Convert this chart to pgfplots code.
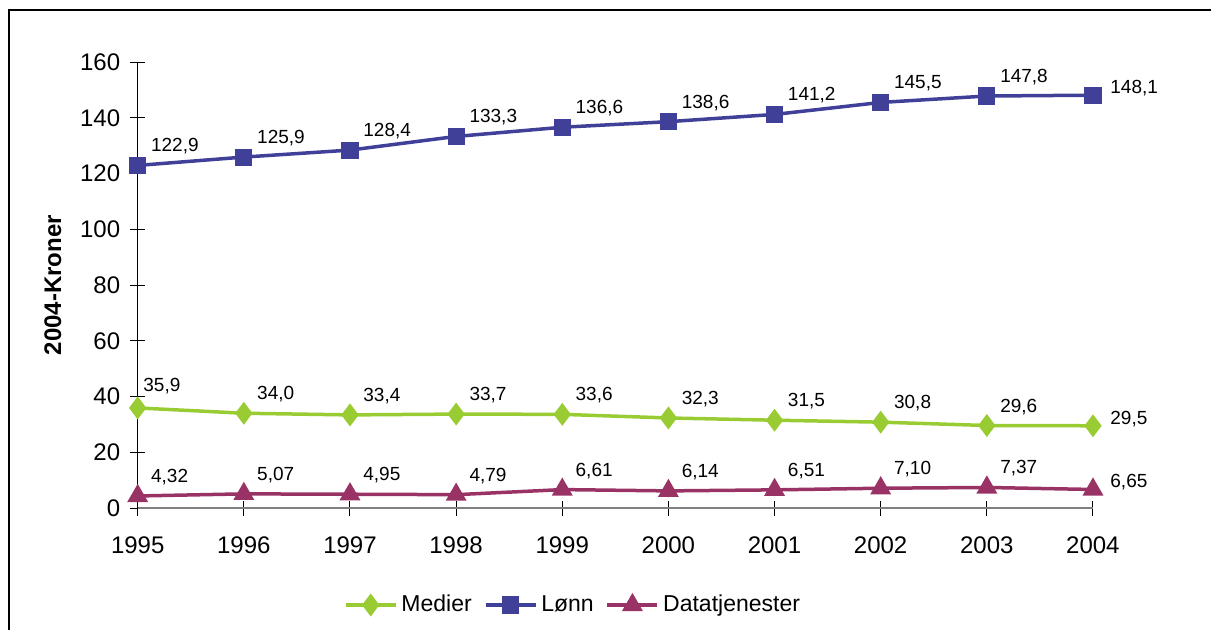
\documentclass[border=0pt]{standalone}
\usepackage{pgfplots}
\pgfplotsset{compat=1.18}
\usepackage{fontspec}
\setmainfont{Liberation Sans}
\definecolor{cMed}{RGB}{153,204,51}
\definecolor{cLon}{RGB}{64,64,153}
\definecolor{cDat}{RGB}{153,51,102}
\begin{document}
\begin{tikzpicture}
\useasboundingbox (0,0) rectangle (605.5pt,-314.5pt);
\draw[line width=0.6pt] (4.5pt,-320pt) -- (4.5pt,-5pt) -- (610pt,-5pt);
\begin{axis}[
  at={(68.85pt,-254pt)}, anchor=origin,
  scale only axis, width=477.65pt, height=223pt,
  xmin=1995, xmax=2004, ymin=0, ymax=160,
  axis lines=left,
  x axis line style={-, draw=gray, line width=0.6pt},
  y axis line style={-, draw=black, line width=0.5pt},
  xtick={1995,...,2004}, ytick={0,20,...,160},
  tick align=center, major tick length=7.5pt,
  tick style={black, line width=0.5pt},
  /pgf/number format/assume math mode=true,
  xticklabel style={/pgf/number format/1000 sep=, font=\fontsize{12}{14}\selectfont, yshift=-7pt},
  yticklabel style={font=\fontsize{12}{14}\selectfont, xshift=-1.5pt},
  ylabel={\textbf{2004-Kroner}},
  ylabel style={font=\fontsize{12}{14}\selectfont},
  ylabel shift=2.5pt,
  legend style={at={(0.4567,-0.2175)}, anchor=center, draw=none, font=\fontsize{11.5}{13}\selectfont, legend columns=3,
    /tikz/every even column/.append style={column sep=4pt}},
  legend image code/.code={\draw[mark repeat=2,mark phase=2] plot coordinates {(0pt,0pt) (12.5pt,0pt) (25pt,0pt)};},
  every node near coord/.append style={font=\fontsize{9.5}{11}\selectfont, inner sep=0pt, black},
]
\addplot[cMed, line width=1.75pt, mark=diamond*, mark size=4.3pt, mark options={solid}] coordinates {
 (1995,35.9) (1996,34.0) (1997,33.4) (1998,33.7) (1999,33.6) (2000,32.3) (2001,31.5) (2002,30.8) (2003,29.6) (2004,29.5)};
\addlegendentry{Medier}
\addplot[cLon, line width=1.75pt, mark=square*, mark size=3.4pt] coordinates {
 (1995,122.9) (1996,125.9) (1997,128.4) (1998,133.3) (1999,136.6) (2000,138.6) (2001,141.2) (2002,145.5) (2003,147.8) (2004,148.1)};
\addlegendentry{Lønn}
\addplot[cDat, line width=1.75pt, mark=triangle*, mark size=4.3pt] coordinates {
 (1995,4.32) (1996,5.07) (1997,4.95) (1998,4.79) (1999,6.61) (2000,6.14) (2001,6.51) (2002,7.10) (2003,7.37) (2004,6.65)};
\addlegendentry{Datatjenester}
% labels, one decimal, above right
\addplot[draw=none, forget plot, point meta=y,
  nodes near coords={\pgfmathprintnumber[fixed,fixed zerofill,precision=1,use comma]{\pgfplotspointmeta}},
  every node near coord/.append style={anchor=base west, xshift=6.5pt, yshift=6.75pt}] coordinates {
 (1996,34.0) (1997,33.4) (1998,33.7) (1999,33.6) (2000,32.3) (2001,31.5) (2002,30.8) (2003,29.6)
 (1995,122.9) (1996,125.9) (1997,128.4) (1998,133.3) (1999,136.6) (2000,138.6) (2001,141.2) (2002,145.5) (2003,147.8)};
\addplot[draw=none, forget plot, point meta=y,
  nodes near coords={\pgfmathprintnumber[fixed,fixed zerofill,precision=1,use comma]{\pgfplotspointmeta}},
  every node near coord/.append style={anchor=base west, xshift=2.65pt, yshift=8.25pt}] coordinates {(1995,35.9)};
\addplot[draw=none, forget plot, point meta=y,
  nodes near coords={\pgfmathprintnumber[fixed,fixed zerofill,precision=1,use comma]{\pgfplotspointmeta}},
  every node near coord/.append style={anchor=base west, xshift=8.5pt, yshift=0.75pt}] coordinates {(2004,29.5) (2004,148.1)};
\addplot[draw=none, forget plot, point meta=y,
  nodes near coords={\pgfmathprintnumber[fixed,fixed zerofill,precision=2,use comma]{\pgfplotspointmeta}},
  every node near coord/.append style={anchor=base west, xshift=6.5pt, yshift=6.75pt}] coordinates {
 (1995,4.32) (1996,5.07) (1997,4.95) (1998,4.79) (1999,6.61) (2000,6.14) (2001,6.51) (2002,7.10) (2003,7.37)};
\addplot[draw=none, forget plot, point meta=y,
  nodes near coords={\pgfmathprintnumber[fixed,fixed zerofill,precision=2,use comma]{\pgfplotspointmeta}},
  every node near coord/.append style={anchor=base west, xshift=8.5pt, yshift=0.75pt}] coordinates {(2004,6.65)};
\end{axis}
\end{tikzpicture}
\end{document}
